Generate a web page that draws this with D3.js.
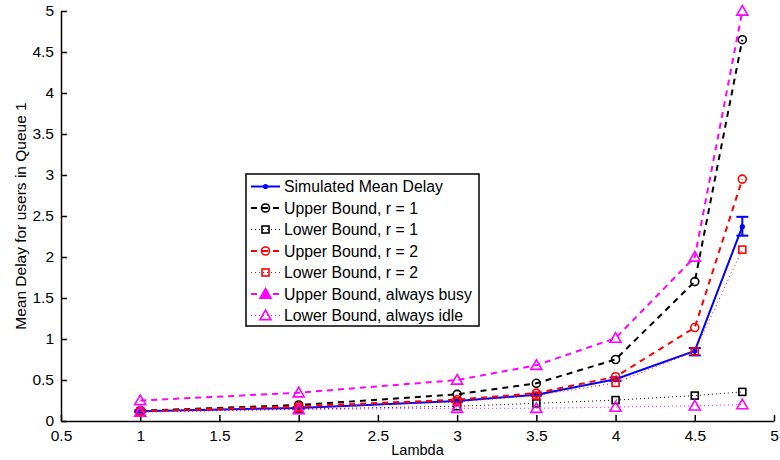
<!DOCTYPE html>
<html>
<head>
<meta charset="utf-8">
<script src="https://cdn.jsdelivr.net/npm/d3@7"></script>
<style>
  html, body { margin: 0; padding: 0; background: #fff; }
  svg { display: block; font-family: "Liberation Sans", Arial, sans-serif; }
</style>
</head>
<body>
<svg id="chart" width="780" height="460"></svg>
<script>
// Arrival rates on the x axis
const lambda = [1, 2, 3, 3.5, 4, 4.5, 4.8];

// Mean delay series
const simulated  = [0.12, 0.16, 0.245, 0.32, 0.51, 0.855, 2.37];
const simLow     = [0.11, 0.15, 0.235, 0.31, 0.49, 0.80, 2.26];
const simHigh    = [0.13, 0.17, 0.255, 0.33, 0.53, 0.89, 2.49];
const upperR1    = [0.125, 0.195, 0.325, 0.46, 0.75, 1.70, 4.65];
const lowerR1    = [0.11, 0.145, 0.18, 0.215, 0.255, 0.31, 0.355];
const upperR2    = [0.12, 0.18, 0.26, 0.34, 0.54, 1.14, 2.95];
const lowerR2    = [0.115, 0.16, 0.235, 0.31, 0.465, 0.85, 2.09];
const upperBusy  = [0.25, 0.345, 0.5, 0.68, 1.01, 2.0, 5.0];
const lowerIdle  = [0.11, 0.14, 0.155, 0.155, 0.17, 0.185, 0.20];

// Tick values
const xTicks = [0.5, 1, 1.5, 2, 2.5, 3, 3.5, 4, 4.5, 5];
const yTicks = [0, 0.5, 1, 1.5, 2, 2.5, 3, 3.5, 4, 4.5, 5];

const series = [
  { name: "Simulated Mean Delay", values: simulated, color: "#0000ff", dash: null, width: 2, marker: "dot" },
  { name: "Upper Bound, r = 1", values: upperR1, color: "#000000", dash: "6,5", width: 2, marker: "circle" },
  { name: "Lower Bound, r = 1", values: lowerR1, color: "#000000", dash: "1,3", width: 1, marker: "square" },
  { name: "Upper Bound, r = 2", values: upperR2, color: "#ff0000", dash: "6,5", width: 2, marker: "circle" },
  { name: "Lower Bound, r = 2", values: lowerR2, color: "#ff0000", dash: "1,3", width: 1, marker: "square" },
  { name: "Upper Bound, always busy", values: upperBusy, color: "#ff00ff", dash: "6,5", width: 2, marker: "triangle", legendFill: true },
  { name: "Lower Bound, always idle", values: lowerIdle, color: "#ff00ff", dash: "1,3", width: 1, marker: "triangle" }
];

const svg = d3.select("#chart");
const x = d3.scaleLinear().domain([0.5, 5]).range([61, 774]);
const y = d3.scaleLinear().domain([0, 5]).range([421, 11]);

// Axes: ticks point inward
const fmt = d => String(d);
svg.append("g")
  .attr("transform", `translate(0,${y(0)})`)
  .call(d3.axisBottom(x).tickValues(xTicks).tickFormat(fmt).tickSizeInner(-6).tickSizeOuter(0).tickPadding(9))
  .call(g => g.select(".domain").attr("stroke", "#000").attr("stroke-width", 1.5))
  .call(g => g.selectAll(".tick line").attr("stroke", "#000").attr("stroke-width", 1.5))
  .call(g => g.selectAll("text").attr("font-size", 15.5).attr("fill", "#000").attr("font-family", "Liberation Sans, Arial, sans-serif"));

svg.append("g")
  .attr("transform", `translate(${x(0.5)},0)`)
  .call(d3.axisLeft(y).tickValues(yTicks).tickFormat(fmt).tickSizeInner(-6).tickSizeOuter(0).tickPadding(7))
  .call(g => g.select(".domain").attr("stroke", "#000").attr("stroke-width", 1.5))
  .call(g => g.selectAll(".tick line").attr("stroke", "#000").attr("stroke-width", 1.5))
  .call(g => g.selectAll("text").attr("font-size", 15.5).attr("fill", "#000").attr("font-family", "Liberation Sans, Arial, sans-serif"));

// Axis titles
svg.append("text")
  .attr("x", x(2.75)).attr("y", 455)
  .attr("text-anchor", "middle").attr("font-size", 14.5)
  .text("Lambda");

svg.append("text")
  .attr("transform", `translate(26,${y(2.5)}) rotate(-90)`)
  .attr("text-anchor", "middle").attr("font-size", 15.5)
  .text("Mean Delay for users in Queue 1");

// Marker drawing helper
function drawMarker(g, type, cx, cy, color, filled) {
  if (type === "dot") {
    g.append("circle").attr("cx", cx).attr("cy", cy).attr("r", 2.6).attr("fill", color);
  } else if (type === "circle") {
    g.append("circle").attr("cx", cx).attr("cy", cy).attr("r", 4)
      .attr("fill", filled ? color : "none").attr("stroke", color).attr("stroke-width", 1.6);
  } else if (type === "square") {
    g.append("rect").attr("x", cx - 3.5).attr("y", cy - 3.5).attr("width", 7).attr("height", 7)
      .attr("fill", "none").attr("stroke", color).attr("stroke-width", 1.6);
  } else if (type === "triangle") {
    const s = 5.5;
    g.append("path")
      .attr("d", `M${cx},${cy - s}L${cx + s},${cy + s * 0.75}L${cx - s},${cy + s * 0.75}Z`)
      .attr("fill", filled ? color : "none").attr("stroke", color).attr("stroke-width", 1.6);
  }
}

const line = d3.line().x(d => x(d[0])).y(d => y(d[1]));
const plot = svg.append("g");

series.forEach((s, si) => {
  const pts = lambda.map((l, i) => [l, s.values[i]]);
  const g = plot.append("g");
  g.append("path").datum(pts)
    .attr("d", line).attr("fill", "none")
    .attr("stroke", s.color).attr("stroke-width", s.width)
    .attr("stroke-dasharray", s.dash);
  if (si === 0) {
    // Error bars on the simulated delay
    lambda.forEach((l, i) => {
      const cx = x(l);
      g.append("line").attr("x1", cx).attr("x2", cx).attr("y1", y(simLow[i])).attr("y2", y(simHigh[i]))
        .attr("stroke", s.color).attr("stroke-width", 2);
      [simLow[i], simHigh[i]].forEach(v => {
        g.append("line").attr("x1", cx - 6).attr("x2", cx + 6).attr("y1", y(v)).attr("y2", y(v))
          .attr("stroke", s.color).attr("stroke-width", 2);
      });
    });
  }
  pts.forEach(p => drawMarker(g, s.marker, x(p[0]), y(p[1]), s.color, false));
});

// Legend
const lg = svg.append("g");
const lx = 246, ly = 174, lw = 233, rowH = 21.5;
lg.append("rect").attr("x", lx).attr("y", ly).attr("width", lw).attr("height", 152)
  .attr("fill", "#fff").attr("stroke", "#000").attr("stroke-width", 1.5);
series.forEach((s, i) => {
  const cy = ly + 12.5 + i * rowH;
  lg.append("line").attr("x1", lx + 5).attr("x2", lx + 34).attr("y1", cy).attr("y2", cy)
    .attr("stroke", s.color).attr("stroke-width", s.width).attr("stroke-dasharray", s.dash);
  drawMarker(lg, s.marker, lx + 19.5, cy, s.color, !!s.legendFill);
  lg.append("text").attr("x", lx + 38).attr("y", cy + 5.5)
    .attr("font-size", 15.8).text(s.name);
});
</script>
</body>
</html>
